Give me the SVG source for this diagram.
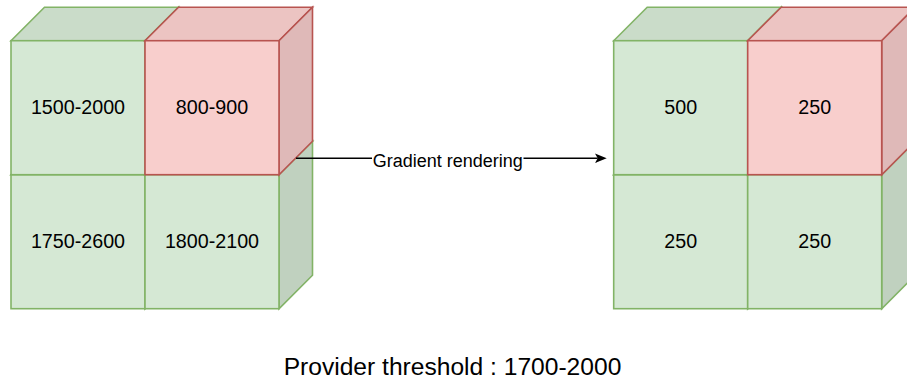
<svg xmlns="http://www.w3.org/2000/svg" width="907" height="383" viewBox="0 0 907 383">
  <style>
    .g-front { fill: #d5e8d4; stroke: #82b366; stroke-width: 1.6; }
    .g-top   { fill: #cadcc9; stroke: #82b366; stroke-width: 1.6; }
    .g-side  { fill: #c0d1bf; stroke: #82b366; stroke-width: 1.6; }
    .r-front { fill: #f8cecc; stroke: #b85450; stroke-width: 1.6; }
    .r-top   { fill: #ecc4c2; stroke: #b85450; stroke-width: 1.6; }
    .r-side  { fill: #dfb9b8; stroke: #b85450; stroke-width: 1.6; }
    .cell    { font-family: "Liberation Sans", Arial, sans-serif; font-size: 19.7px; fill: #000; text-anchor: middle; }
    .edge    { stroke: #000; stroke-width: 1.6; fill: none; }
    .elabel  { font-family: "Liberation Sans", Arial, sans-serif; font-size: 18px; fill: #000; text-anchor: middle; }
    .caption { font-family: "Liberation Sans", Arial, sans-serif; font-size: 24.6px; fill: #000; text-anchor: middle; }
  </style>
  <defs>
    <marker id="arrow" markerUnits="userSpaceOnUse" markerWidth="14" markerHeight="12" viewBox="-13 -6 14 12" refX="-9" refY="0" orient="auto">
      <path d="M0,0 L-11.7,-4.7 L-9,0 L-11.7,4.7 Z" fill="#000"/>
    </marker>
  </defs>

  <!-- Left block: input ranges (W=134, depth=33.5) -->
  <g id="left-bottom-left">
    <polygon class="g-top" points="11,174.7 44.5,141.2 178.5,141.2 145,174.7"/>
    <polygon class="g-side" points="145,174.7 178.5,141.2 178.5,275.2 145,308.7"/>
    <rect class="g-front" x="11" y="174.7" width="134" height="134"/>
    <text class="cell" x="78" y="248.3">1750-2600</text>
  </g>
  <g id="left-bottom-right">
    <polygon class="g-top" points="145,174.7 178.5,141.2 312.5,141.2 279,174.7"/>
    <polygon class="g-side" points="279,174.7 312.5,141.2 312.5,275.2 279,308.7"/>
    <rect class="g-front" x="145" y="174.7" width="134" height="134"/>
    <text class="cell" x="212" y="248.3">1800-2100</text>
  </g>
  <g id="left-top-left">
    <polygon class="g-top" points="11,40.7 44.5,7.2 178.5,7.2 145,40.7"/>
    <polygon class="g-side" points="145,40.7 178.5,7.2 178.5,141.2 145,174.7"/>
    <rect class="g-front" x="11" y="40.7" width="134" height="134"/>
    <text class="cell" x="78" y="114.3">1500-2000</text>
  </g>
  <g id="left-top-right">
    <polygon class="r-top" points="145,40.7 178.5,7.2 312.5,7.2 279,40.7"/>
    <polygon class="r-side" points="279,40.7 312.5,7.2 312.5,141.2 279,174.7"/>
    <rect class="r-front" x="145" y="40.7" width="134" height="134"/>
    <text class="cell" x="212" y="114.3">800-900</text>
  </g>

  <!-- Right block: rendered values -->
  <g id="right-bottom-left">
    <polygon class="g-top" points="613.7,174.7 647.2,141.2 781.2,141.2 747.7,174.7"/>
    <polygon class="g-side" points="747.7,174.7 781.2,141.2 781.2,275.2 747.7,308.7"/>
    <rect class="g-front" x="613.7" y="174.7" width="134" height="134"/>
    <text class="cell" x="680.7" y="248.3">250</text>
  </g>
  <g id="right-bottom-right">
    <polygon class="g-top" points="747.7,174.7 781.2,141.2 915.2,141.2 881.7,174.7"/>
    <polygon class="g-side" points="881.7,174.7 915.2,141.2 915.2,275.2 881.7,308.7"/>
    <rect class="g-front" x="747.7" y="174.7" width="134" height="134"/>
    <text class="cell" x="814.7" y="248.3">250</text>
  </g>
  <g id="right-top-left">
    <polygon class="g-top" points="613.7,40.7 647.2,7.2 781.2,7.2 747.7,40.7"/>
    <polygon class="g-side" points="747.7,40.7 781.2,7.2 781.2,141.2 747.7,174.7"/>
    <rect class="g-front" x="613.7" y="40.7" width="134" height="134"/>
    <text class="cell" x="680.7" y="114.3">500</text>
  </g>
  <g id="right-top-right">
    <polygon class="r-top" points="747.7,40.7 781.2,7.2 915.2,7.2 881.7,40.7"/>
    <polygon class="r-side" points="881.7,40.7 915.2,7.2 915.2,141.2 881.7,174.7"/>
    <rect class="r-front" x="747.7" y="40.7" width="134" height="134"/>
    <text class="cell" x="814.7" y="114.3">250</text>
  </g>

  <!-- Connector -->
  <g id="connectors">
    <line class="edge" x1="296" y1="158.3" x2="597.7" y2="158.3" marker-end="url(#arrow)"/>
    <rect x="372" y="150" width="151.5" height="19" fill="#fff"/>
    <text class="elabel" x="447.7" y="167.4">Gradient rendering</text>
  </g>

  <!-- Caption -->
  <g id="caption">
    <text class="caption" x="452.5" y="375.3">Provider threshold : 1700-2000</text>
  </g>
</svg>
